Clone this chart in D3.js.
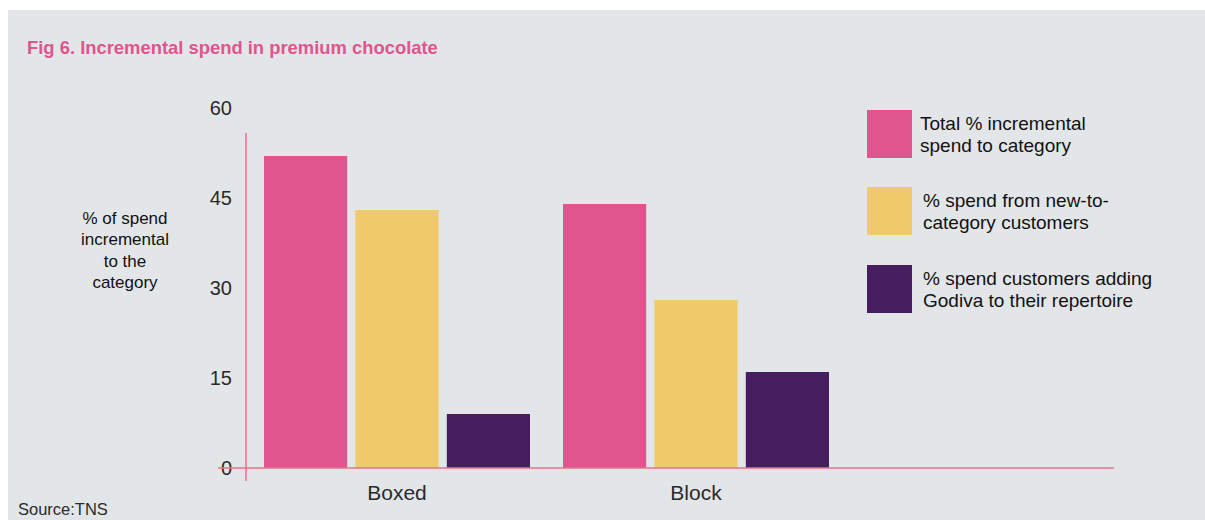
<!DOCTYPE html>
<html>
<head>
<meta charset="utf-8">
<script src="https://cdn.jsdelivr.net/npm/d3@7"></script>
<style>
  body { margin: 0; background: #fff; }
  text { font-family: "Liberation Sans", Arial, Helvetica, sans-serif; }
</style>
</head>
<body>
<div id="chart"></div>
<script>
// data
var categories = ["Boxed", "Block"];
var seriesNames = ["Total % incremental spend to category",
                   "% spend from new-to-category customers",
                   "% spend customers adding Godiva to their repertoire"];
var totalIncremental = [52, 44];
var newToCategory = [43, 28];
var addingGodiva = [9, 16];
var yTicks = [0, 15, 30, 45, 60];
var legendLines = [["Total % incremental", "spend to category"],
                   ["% spend from new-to-", "category customers"],
                   ["% spend customers adding", "Godiva to their repertoire"]];
var yTitle = ["% of spend", "incremental", "to the", "category"];

var colors = ["#e0558d", "#f0ca6a", "#461e5f"];
var axisColor = "#ef6f86";

var width = 1205, height = 520;

var svg = d3.select("#chart").append("svg")
    .attr("width", width)
    .attr("height", height);

svg.append("rect")
    .attr("x", 8).attr("y", 10)
    .attr("width", width - 8).attr("height", height - 10)
    .attr("fill", "#e3e6e9");

svg.append("text")
    .attr("x", 27).attr("y", 54)
    .attr("fill", "#e0558d")
    .style("font-size", "18.4px")
    .style("font-weight", "bold")
    .text("Fig 6. Incremental spend in premium chocolate");

var y = d3.scaleLinear().domain([0, 60]).range([468, 108]);

var x = d3.scaleBand().domain(categories).range([264, 829])
    .paddingInner(33 / 299).paddingOuter(0);
var xs = d3.scaleBand().domain(d3.range(3)).range([0, x.bandwidth()])
    .paddingInner(0.09).paddingOuter(0);

var rows = categories.map(function(c, i) {
    return { cat: c, vals: [totalIncremental[i], newToCategory[i], addingGodiva[i]] };
});

// axis lines
svg.append("line")
    .attr("x1", 246).attr("x2", 246)
    .attr("y1", 133).attr("y2", 481)
    .attr("stroke", axisColor).attr("stroke-width", 1.5);

// tick labels
svg.append("g").selectAll("text")
    .data(yTicks)
    .enter().append("text")
    .attr("x", 232)
    .attr("y", function(d) { return y(d); })
    .attr("text-anchor", "end")
    .attr("dominant-baseline", "central")
    .attr("fill", "#2a2a2a")
    .style("font-size", "20px")
    .text(function(d) { return d; });

// bars
var groups = svg.append("g").selectAll("g")
    .data(rows)
    .enter().append("g")
    .attr("transform", function(d) { return "translate(" + x(d.cat) + ",0)"; });

groups.selectAll("rect")
    .data(function(d) { return d.vals; })
    .enter().append("rect")
    .attr("x", function(d, i) { return xs(i); })
    .attr("y", function(d) { return y(d); })
    .attr("width", xs.bandwidth())
    .attr("height", function(d) { return y(0) - y(d); })
    .attr("fill", function(d, i) { return colors[i]; });

svg.append("line")
    .attr("x1", 218).attr("x2", 1114)
    .attr("y1", y(0)).attr("y2", y(0))
    .attr("stroke", axisColor).attr("stroke-width", 1.5);

// category labels
svg.append("g").selectAll("text")
    .data(categories)
    .enter().append("text")
    .attr("x", function(d) { return x(d) + x.bandwidth() / 2; })
    .attr("y", 500)
    .attr("text-anchor", "middle")
    .attr("fill", "#2a2a2a")
    .style("font-size", "21px")
    .text(function(d) { return d; });

// y title
svg.append("text")
    .attr("text-anchor", "middle")
    .attr("fill", "#111")
    .style("font-size", "17px")
    .selectAll("tspan")
    .data(yTitle)
    .enter().append("tspan")
    .attr("x", 125)
    .attr("y", function(d, i) { return 224 + i * 21.3; })
    .text(function(d) { return d; });

// legend
var legTop = [110, 187, 265];
var leg = svg.append("g").selectAll("g")
    .data(seriesNames)
    .enter().append("g")
    .attr("transform", function(d, i) { return "translate(867," + legTop[i] + ")"; });

leg.append("rect")
    .attr("width", 45).attr("height", 48)
    .attr("fill", function(d, i) { return colors[i]; });

leg.append("text")
    .attr("fill", "#111")
    .style("font-size", "19px")
    .selectAll("tspan")
    .data(function(d, i) { return legendLines[i]; })
    .enter().append("tspan")
    .attr("x", function() { return d3.select(this.parentNode).datum() === seriesNames[0] ? 53 : 56; })
    .attr("y", function(d, i) { return 20 + i * 22; })
    .text(function(d) { return d; });

svg.append("text")
    .attr("x", 18).attr("y", 515)
    .attr("fill", "#2a2a2a")
    .style("font-size", "16.5px")
    .text("Source:TNS");
</script>
</body>
</html>
